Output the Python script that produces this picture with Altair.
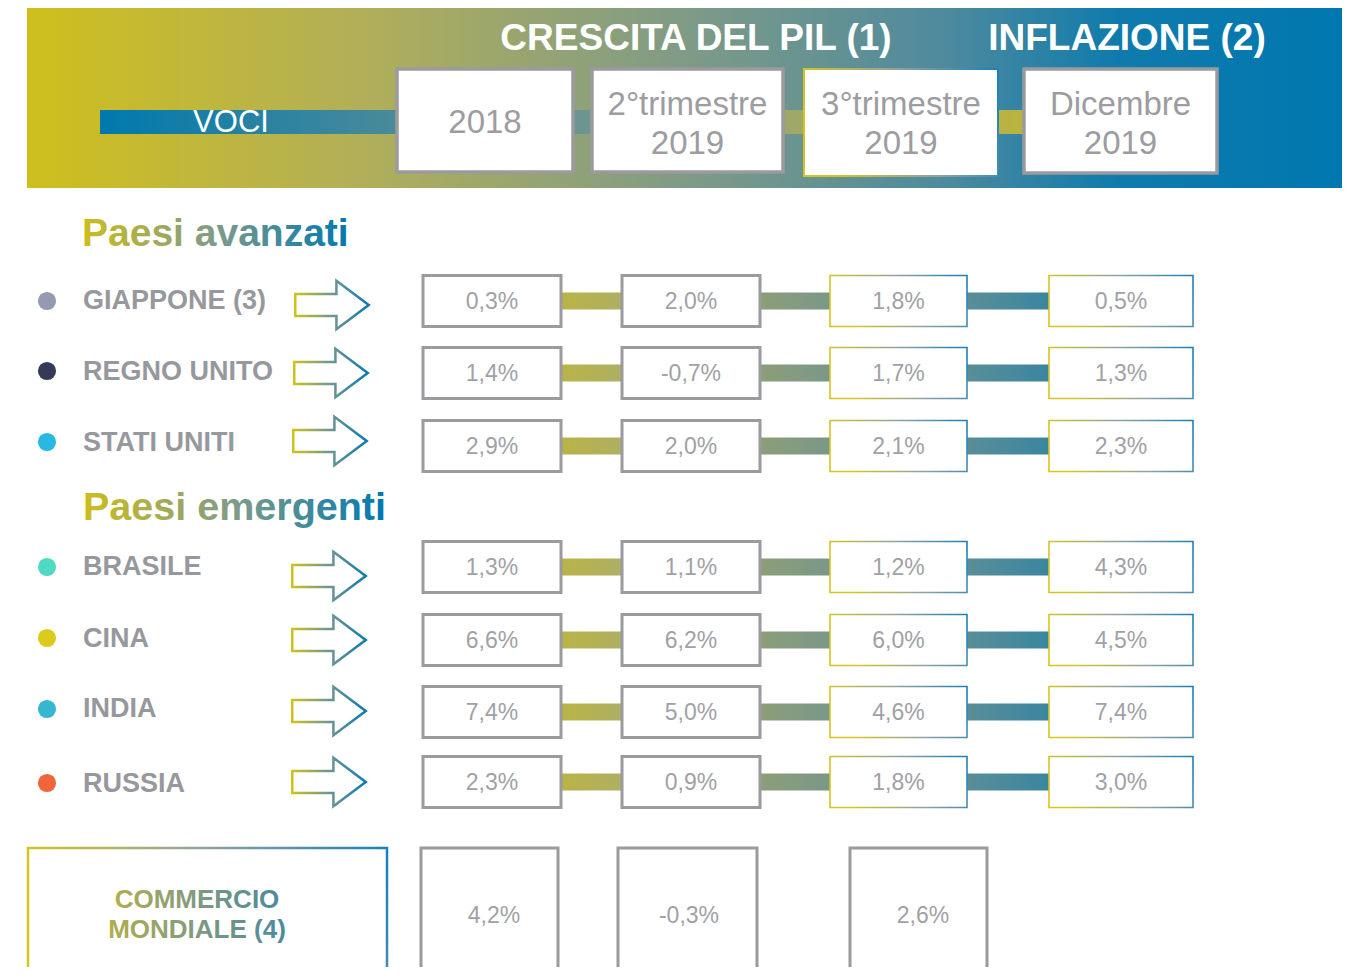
import altair as alt
import pandas as pd

# ---------------- data ----------------
header_titles = ["CRESCITA DEL PIL (1)", "INFLAZIONE (2)"]
column_heads = [["2018"], ["2°trimestre", "2019"], ["3°trimestre", "2019"], ["Dicembre", "2019"]]
row_head = "VOCI"
section_titles = ["Paesi avanzati", "Paesi emergenti"]
countries = ["GIAPPONE (3)", "REGNO UNITO", "STATI UNITI", "BRASILE", "CINA", "INDIA", "RUSSIA"]
gdp_2018 = [0.3, 1.4, 2.9, 1.3, 6.6, 7.4, 2.3]
gdp_q2_2019 = [2.0, -0.7, 2.0, 1.1, 6.2, 5.0, 0.9]
gdp_q3_2019 = [1.8, 1.7, 2.1, 1.2, 6.0, 4.6, 1.8]
infl_dec_2019 = [0.5, 1.3, 2.3, 4.3, 4.5, 7.4, 3.0]
trade_label = ["COMMERCIO", "MONDIALE (4)"]
world_trade = [4.2, -0.3, 2.6]

# ---------------- layout / style (not data) ----------------
dot_colors = ["#9599b1", "#353b56", "#27b9e3", "#4fdac3", "#dccb1c", "#35b6d1", "#f0663a"]
ROW_Y = [301, 373, 446, 567, 640, 712, 782]
LABEL_Y = [301, 372, 443, 567, 639, 709, 784]
DOT_Y = [301, 371, 442, 567, 638, 709, 783]
ARROW_Y = [305, 373, 441, 576, 640, 711, 782]
COL_X = [(423, 561), (622, 760), (830, 967), (1049, 1193)]
HEAD_BOX = [(397, 573, 69, 172), (592, 783, 69, 172), (804, 998, 69, 176), (1024, 1217, 69, 173)]
BOTTOM_BOX = [(421, 558), (618, 757), (850, 987)]
BOTTOM_TXT_X = [494, 689, 923]
GRAY = "#9a9a9f"
TXT = "#9c9ca1"
FONT = "Liberation Sans"


def fmt(v):
    return f"{v:.1f}".replace(".", ",") + "%"


def grad(stops, x1=0, y1=0, x2=1, y2=0):
    return alt.LinearGradient(
        gradient="linear",
        stops=[alt.GradientStop(offset=o, color=c) for o, c in stops],
        x1=x1, y1=y1, x2=x2, y2=y2,
    )


bg_grad = grad([(0, "#cfbf1c"), (0.25, "#b2af58"), (0.5, "#7f9b86"), (0.7, "#4d8a9e"),
                (0.83, "#0f7bac"), (1, "#0077b0")])
voci_grad = grad([(0, "#0079ad"), (0.32, "#4a8a9a"), (0.52, "#6a9590"), (0.75, "#a0a868"),
                  (1, "#bab43e")])
conn_grad = grad([(0, "#b9b346"), (0.12, "#aeb062"), (0.41, "#8c9e78"), (0.55, "#7a9888"),
                  (0.83, "#5a8e98"), (1, "#3a86a0")])
box_grad = grad([(0, "#d6c51c"), (0.5, "#8fa3a0"), (1, "#1a80b8")], x1=0, y1=0.2, x2=1, y2=0)
text_grad = grad([(0, "#cdbd1e"), (0.5, "#7f9b88"), (1, "#0078b0")])
trade_grad = grad([(0, "#b2ae4e"), (0.5, "#7f9a80"), (1, "#4a8a9c")])

xs = alt.Scale(domain=[8, 1343], nice=False, zero=False)
ys = alt.Scale(domain=[8, 967], nice=False, zero=False, reverse=True)


def rect_layer(df, **mark):
    return alt.Chart(df).mark_rect(**mark).encode(
        x=alt.X("x0:Q", scale=xs, axis=None), x2="x1:Q",
        y=alt.Y("y0:Q", scale=ys, axis=None), y2="y1:Q")


def text_layer(df, **mark):
    mark.setdefault("font", FONT)
    mark.setdefault("baseline", "middle")
    return alt.Chart(df).mark_text(**mark).encode(
        x=alt.X("x:Q", scale=xs, axis=None),
        y=alt.Y("y:Q", scale=ys, axis=None),
        text="label:N")


layers = []

# header
layers.append(rect_layer(pd.DataFrame([dict(x0=27, x1=1342, y0=8, y1=188)]), fill=bg_grad))
layers.append(rect_layer(pd.DataFrame([dict(x0=100, x1=1024, y0=110, y1=134)]), fill=voci_grad))
layers.append(text_layer(pd.DataFrame([dict(x=231, y=123, label=row_head)]),
                         fill="white", fontSize=31, align="center"))
layers.append(text_layer(pd.DataFrame([dict(x=696, y=39, label=header_titles[0]),
                                       dict(x=1127, y=39, label=header_titles[1])]),
                         fill="white", fontSize=37, fontWeight="bold", align="center"))
gray_heads = [HEAD_BOX[i] for i in (0, 1, 3)]
layers.append(rect_layer(pd.DataFrame([dict(x0=a, x1=b, y0=c, y1=d) for a, b, c, d in gray_heads]),
                         fill="white", stroke=GRAY, strokeWidth=3.5))
a, b, c, d = HEAD_BOX[2]
layers.append(rect_layer(pd.DataFrame([dict(x0=a, x1=b, y0=c, y1=d)]),
                         fill="white", stroke=box_grad, strokeWidth=2))
head_txt = []
for (a, b, c, d), lines in zip(HEAD_BOX, column_heads):
    cx = (a + b) / 2
    if len(lines) == 1:
        head_txt.append(dict(x=cx, y=123, label=lines[0]))
    else:
        head_txt.append(dict(x=cx, y=105, label=lines[0]))
        head_txt.append(dict(x=cx, y=144, label=lines[1]))
layers.append(text_layer(pd.DataFrame(head_txt), fill=TXT, fontSize=33, align="center"))

# section titles
layers.append(text_layer(pd.DataFrame([dict(x=82, y=234, label=section_titles[0])]),
                         fill=text_grad, fontSize=39, fontWeight="bold", align="left"))
layers.append(text_layer(pd.DataFrame([dict(x=83, y=508, label=section_titles[1])]),
                         fill=text_grad, fontSize=39.5, fontWeight="bold", align="left"))

# country dots, labels, arrows
dots = pd.DataFrame(dict(x=[47] * 7, y=DOT_Y, c=dot_colors, label=countries))
layers.append(alt.Chart(dots).mark_circle(size=330, opacity=1).encode(
    x=alt.X("x:Q", scale=xs, axis=None), y=alt.Y("y:Q", scale=ys, axis=None),
    color=alt.Color("c:N", scale=None)))
layers.append(text_layer(pd.DataFrame(dict(x=[83] * 7, y=LABEL_Y, label=countries)),
                         fill="#97989d", fontSize=27, fontWeight="bold", align="left"))
arrow_path = "M -1 -0.3 L 0.12 -0.3 L 0.12 -0.66 L 1 0 L 0.12 0.66 L 0.12 0.3 L -1 0.3 Z"
arrows = pd.DataFrame(dict(x=[332, 331, 330, 329, 329, 329, 329], y=ARROW_Y))
layers.append(alt.Chart(arrows).mark_point(shape=arrow_path, size=5400, filled=False,
                                           stroke=grad([(0, "#d0c21a"), (0.5, "#6f9690"), (1, "#0a7ab2")]),
                                           strokeWidth=2.5, opacity=1).encode(
    x=alt.X("x:Q", scale=xs, axis=None), y=alt.Y("y:Q", scale=ys, axis=None)))

# connectors
layers.append(rect_layer(pd.DataFrame([dict(x0=COL_X[0][1], x1=COL_X[3][0], y0=y - 8.5, y1=y + 8.5)
                                       for y in ROW_Y]), fill=conn_grad))

# value boxes
cols = [gdp_2018, gdp_q2_2019, gdp_q3_2019, infl_dec_2019]
gray_boxes, grad_boxes, vals = [], [], []
for j, series in enumerate(cols):
    a, b = COL_X[j]
    for i, v in enumerate(series):
        y = ROW_Y[i]
        rec = dict(x0=a, x1=b, y0=y - 25.5, y1=y + 25.5)
        (gray_boxes if j < 2 else grad_boxes).append(rec)
        vals.append(dict(x=(a + b) / 2, y=y + 1, label=fmt(v)))
layers.append(rect_layer(pd.DataFrame(gray_boxes), fill="white", stroke=GRAY, strokeWidth=3))
layers.append(rect_layer(pd.DataFrame(grad_boxes), fill="white", stroke=box_grad, strokeWidth=1.6))
layers.append(text_layer(pd.DataFrame(vals), fill="#a0a1a6", fontSize=23, align="center"))

# world trade
layers.append(rect_layer(pd.DataFrame([dict(x0=28, x1=387, y0=848, y1=1000)]),
                         fill="white", stroke=box_grad, strokeWidth=2.5))
layers.append(text_layer(pd.DataFrame([dict(x=197, y=900, label=trade_label[0]),
                                       dict(x=197, y=930, label=trade_label[1])]),
                         fill=trade_grad, fontSize=26, fontWeight="bold", align="center"))
layers.append(rect_layer(pd.DataFrame([dict(x0=a, x1=b, y0=848, y1=1000) for a, b in BOTTOM_BOX]),
                         fill="white", stroke=GRAY, strokeWidth=3))
layers.append(text_layer(pd.DataFrame([dict(x=x, y=916, label=fmt(v))
                                       for x, v in zip(BOTTOM_TXT_X, world_trade)]),
                         fill="#a0a1a6", fontSize=23, align="center"))

chart = alt.layer(*layers).properties(
    width=1335, height=959, padding=0,
    autosize=alt.AutoSizeParams(type="none"),
).configure_view(stroke=None)

chart.save("out.html", embed_options={"renderer": "svg", "actions": False})
